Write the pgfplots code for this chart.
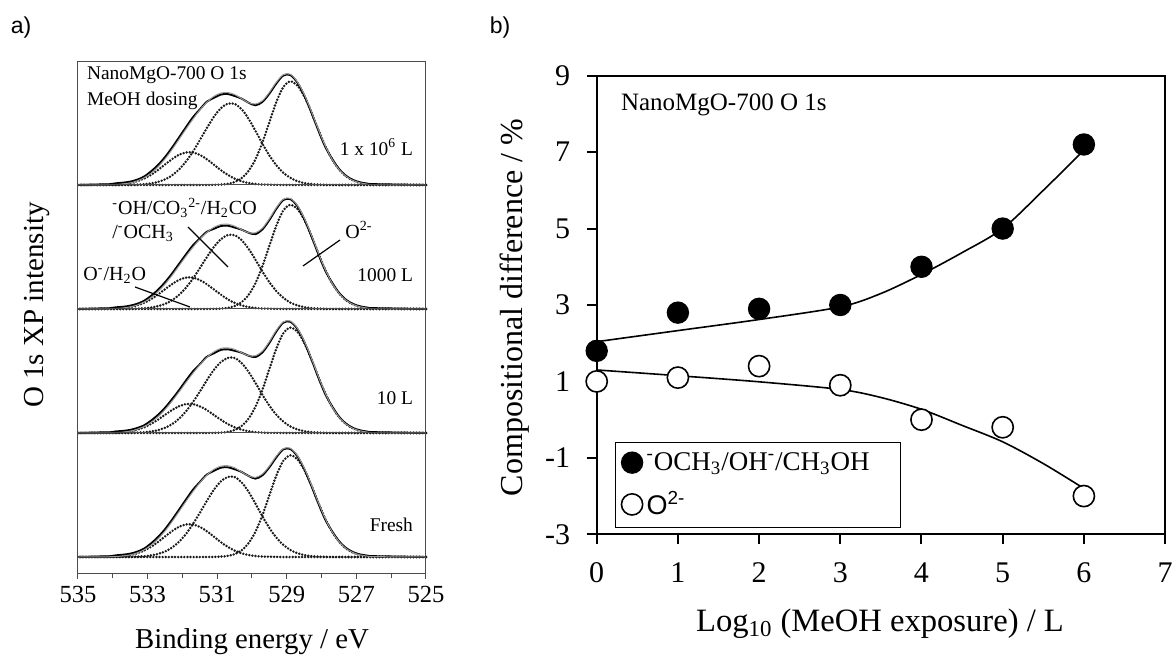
\documentclass[border=0pt]{standalone}
\usepackage{fontspec}
\setmainfont{Liberation Serif}
\newfontfamily\arial{Liberation Sans}
\usepackage{pgfplots}
\pgfplotsset{compat=1.18}
\usepackage{pgfplotstable}

% O 1s spectra: x = binding energy, dat = measured, fit = envelope,
% o2 / oh / ho = O2-, OH/CO3/OCH3 and O-/H2O components
\pgfplotstableread{
x dat fit o2 oh ho
525 0 0 0 0 0
526.5 0.007 0.003 0.003 0 0
526.7 0.012 0.008 0.008 0 0
526.9 0.022 0.018 0.018 0 0
527.1 0.041 0.037 0.037 0 0
527.3 0.075 0.071 0.071 0 0
527.5 0.130 0.126 0.126 0 0
527.7 0.212 0.208 0.208 0 0
527.9 0.311 0.319 0.318 0.001 0
528.1 0.445 0.453 0.450 0.003 0
528.3 0.590 0.598 0.590 0.008 0
528.5 0.724 0.732 0.716 0.016 0
528.7 0.828 0.834 0.803 0.031 0
528.9 0.887 0.893 0.835 0.058 0
529.1 0.883 0.889 0.790 0.099 0
529.3 0.819 0.829 0.669 0.159 0.001
529.5 0.737 0.747 0.507 0.238 0.002
529.7 0.670 0.680 0.343 0.333 0.004
529.9 0.643 0.653 0.208 0.437 0.008
530.1 0.664 0.664 0.113 0.535 0.016
530.3 0.697 0.697 0.055 0.612 0.030
530.5 0.718 0.730 0.024 0.654 0.052
530.7 0.734 0.746 0.009 0.655 0.082
530.9 0.729 0.741 0.003 0.617 0.121
531.1 0.702 0.714 0.001 0.548 0.165
531.3 0.671 0.666 0 0.458 0.208
531.5 0.609 0.604 0 0.361 0.243
531.7 0.545 0.530 0 0.268 0.262
531.9 0.465 0.450 0 0.188 0.262
532.1 0.382 0.367 0 0.124 0.243
532.3 0.300 0.285 0 0.077 0.208
532.5 0.225 0.210 0 0.045 0.165
532.7 0.161 0.146 0 0.025 0.121
532.9 0.110 0.095 0 0.013 0.082
533.1 0.068 0.058 0 0.006 0.052
533.3 0.043 0.033 0 0.003 0.030
533.5 0.027 0.017 0 0.001 0.016
533.7 0.019 0.009 0 0.001 0.008
533.9 0.014 0.004 0 0 0.004
534.1 0.006 0.002 0 0 0.002
534.3 0.005 0.001 0 0 0.001
535 0 0 0 0 0
}\specA

\pgfplotstableread{
x dat fit o2 oh ho
525 0 0 0 0 0
526.5 0.007 0.003 0.003 0 0
526.7 0.012 0.008 0.008 0 0
526.9 0.022 0.018 0.018 0 0
527.1 0.041 0.037 0.037 0 0
527.3 0.075 0.071 0.071 0 0
527.5 0.131 0.127 0.127 0 0
527.7 0.213 0.209 0.209 0 0
527.9 0.313 0.321 0.320 0.001 0
528.1 0.448 0.456 0.453 0.003 0
528.3 0.593 0.601 0.594 0.007 0
528.5 0.727 0.735 0.720 0.015 0
528.7 0.831 0.837 0.808 0.029 0
528.9 0.886 0.892 0.840 0.052 0
529.1 0.879 0.885 0.795 0.090 0
529.3 0.808 0.818 0.673 0.144 0.001
529.5 0.718 0.728 0.510 0.216 0.002
529.7 0.642 0.652 0.345 0.303 0.004
529.9 0.604 0.614 0.209 0.397 0.008
530.1 0.615 0.615 0.113 0.486 0.016
530.3 0.640 0.640 0.055 0.556 0.029
530.5 0.657 0.669 0.024 0.595 0.050
530.7 0.672 0.684 0.009 0.596 0.079
530.9 0.669 0.681 0.003 0.561 0.117
531.1 0.646 0.658 0.001 0.498 0.159
531.3 0.622 0.617 0 0.417 0.200
531.5 0.568 0.563 0 0.329 0.234
531.7 0.512 0.497 0 0.244 0.253
531.9 0.439 0.424 0 0.171 0.253
532.1 0.362 0.347 0 0.113 0.234
532.3 0.285 0.270 0 0.070 0.200
532.5 0.215 0.200 0 0.041 0.159
532.7 0.155 0.140 0 0.023 0.117
532.9 0.106 0.091 0 0.012 0.079
533.1 0.066 0.056 0 0.006 0.050
533.3 0.042 0.032 0 0.003 0.029
533.5 0.027 0.017 0 0.001 0.016
533.7 0.018 0.008 0 0 0.008
533.9 0.014 0.004 0 0 0.004
534.1 0.006 0.002 0 0 0.002
534.3 0.005 0.001 0 0 0.001
535 0 0 0 0 0
}\specB

\pgfplotstableread{
x dat fit o2 oh ho
525 0 0 0 0 0
526.5 0.007 0.003 0.003 0 0
526.7 0.012 0.008 0.008 0 0
526.9 0.022 0.018 0.018 0 0
527.1 0.041 0.037 0.037 0 0
527.3 0.076 0.072 0.072 0 0
527.5 0.132 0.128 0.128 0 0
527.7 0.216 0.212 0.212 0 0
527.9 0.317 0.325 0.324 0.001 0
528.1 0.453 0.461 0.458 0.003 0
528.3 0.600 0.608 0.601 0.007 0
528.5 0.735 0.743 0.728 0.015 0
528.7 0.841 0.847 0.818 0.029 0
528.9 0.897 0.903 0.850 0.053 0
529.1 0.890 0.896 0.804 0.092 0
529.3 0.819 0.829 0.681 0.147 0.001
529.5 0.727 0.737 0.516 0.220 0.001
529.7 0.650 0.660 0.349 0.308 0.003
529.9 0.613 0.623 0.212 0.404 0.007
530.1 0.623 0.623 0.115 0.494 0.014
530.3 0.648 0.648 0.056 0.565 0.027
530.5 0.663 0.675 0.024 0.605 0.046
530.7 0.675 0.687 0.009 0.605 0.073
530.9 0.670 0.682 0.003 0.571 0.108
531.1 0.642 0.654 0.001 0.507 0.146
531.3 0.614 0.609 0 0.424 0.185
531.5 0.554 0.549 0 0.334 0.215
531.7 0.496 0.481 0 0.248 0.233
531.9 0.422 0.407 0 0.174 0.233
532.1 0.344 0.329 0 0.114 0.215
532.3 0.271 0.256 0 0.071 0.185
532.5 0.203 0.188 0 0.042 0.146
532.7 0.146 0.131 0 0.023 0.108
532.9 0.100 0.085 0 0.012 0.073
533.1 0.062 0.052 0 0.006 0.046
533.3 0.040 0.030 0 0.003 0.027
533.5 0.025 0.015 0 0.001 0.014
533.7 0.017 0.007 0 0 0.007
533.9 0.013 0.003 0 0 0.003
534.1 0.005 0.001 0 0 0.001
534.3 0.005 0.001 0 0 0.001
535 0 0 0 0 0
}\specC

\pgfplotstableread{
x dat fit o2 oh ho
525 0 0 0 0 0
526.5 0.007 0.003 0.003 0 0
526.7 0.012 0.008 0.008 0 0
526.9 0.021 0.017 0.017 0 0
527.1 0.040 0.036 0.036 0 0
527.3 0.073 0.069 0.069 0 0
527.5 0.128 0.124 0.124 0 0
527.7 0.208 0.204 0.204 0 0
527.9 0.305 0.313 0.312 0.001 0
528.1 0.437 0.445 0.442 0.003 0
528.3 0.579 0.587 0.580 0.007 0
528.5 0.711 0.719 0.703 0.016 0
528.7 0.814 0.820 0.789 0.031 0
528.9 0.871 0.877 0.820 0.057 0
529.1 0.868 0.874 0.776 0.098 0
529.3 0.804 0.814 0.657 0.156 0.001
529.5 0.724 0.734 0.498 0.234 0.002
529.7 0.659 0.669 0.337 0.328 0.004
529.9 0.632 0.642 0.204 0.430 0.008
530.1 0.654 0.654 0.111 0.527 0.016
530.3 0.686 0.686 0.054 0.602 0.030
530.5 0.708 0.720 0.023 0.645 0.052
530.7 0.724 0.736 0.009 0.645 0.082
530.9 0.720 0.732 0.003 0.608 0.121
531.1 0.694 0.706 0.001 0.540 0.165
531.3 0.664 0.659 0 0.451 0.208
531.5 0.604 0.599 0 0.356 0.243
531.7 0.541 0.526 0 0.264 0.262
531.9 0.462 0.447 0 0.185 0.262
532.1 0.380 0.365 0 0.122 0.243
532.3 0.299 0.284 0 0.076 0.208
532.5 0.224 0.209 0 0.044 0.165
532.7 0.161 0.146 0 0.025 0.121
532.9 0.110 0.095 0 0.013 0.082
533.1 0.068 0.058 0 0.006 0.052
533.3 0.043 0.033 0 0.003 0.030
533.5 0.027 0.017 0 0.001 0.016
533.7 0.019 0.009 0 0.001 0.008
533.9 0.014 0.004 0 0 0.004
534.1 0.006 0.002 0 0 0.002
534.3 0.005 0.001 0 0 0.001
535 0 0 0 0 0
}\specD

\pgfplotsset{
  xps/.style={scale only axis, width=174pt, xmin=525, xmax=535, x dir=reverse,
    ymin=0, ymax=1, ytick=\empty, clip=false, anchor=south west,
    axis line style={line width=0.5pt, black!70}},
  comp/.style={black!90, line width=1.35pt, dash pattern=on 0pt off 1.55pt, line cap=round, smooth},
  dat/.style={black, line width=0.95pt, smooth},
  fitl/.style={black!40, line width=0.5pt, smooth},
}

\newcommand{\spectrum}[1]{%
  \addplot[comp] table[x=x, y=o2] {#1};
  \addplot[comp] table[x=x, y=oh] {#1};
  \addplot[comp] table[x=x, y=ho] {#1};
  \addplot[dat] table[x=x, y=dat] {#1};
  \addplot[fitl] table[x=x, y=fit] {#1};
}

\begin{document}
\begin{tikzpicture}
\useasboundingbox (0pt,0pt) rectangle (587pt,-328pt);

% ---- panel a: stacked spectra ----
\begin{axis}[xps, at={(39pt,-92.5pt)}, height=61.5pt, ymax=0.992, xtick=\empty]
\spectrum{\specA}
\end{axis}
\begin{axis}[xps, at={(39pt,-154.5pt)}, height=62pt, xtick=\empty]
\spectrum{\specB}
\end{axis}
\begin{axis}[xps, at={(39pt,-216.5pt)}, height=62pt, xtick=\empty]
\spectrum{\specC}
\end{axis}
\begin{axis}[xps, at={(39pt,-287pt)}, height=70.5pt, ymin=-0.137,
    xtick={525,527,529,531,533,535}, minor xtick={526,528,530,532,534},
    tick align=outside, major tick length=2.5pt, minor tick length=2pt,
    tick style={black!70, line width=0.5pt}, tick pos=left,
    /pgf/number format/assume math mode=true,
    xticklabel style={font=\fontsize{12.3}{14}\selectfont}]
\spectrum{\specD}
\end{axis}

\node[font=\arial\fontsize{11.5}{13}\selectfont] at (10.5pt,-14pt) {a)};
\node[font=\fontsize{14.5}{17}\selectfont, rotate=90] at (18.5pt,-152.5pt) {O 1s XP intensity};
\node[font=\fontsize{14.4}{17}\selectfont] at (126pt,-321pt) {Binding energy / eV};

\begin{scope}[font=\fontsize{9.7}{11}\selectfont]
\node[anchor=west] at (40pt,-37.5pt) {NanoMgO-700 O 1s};
\node[anchor=west] at (40pt,-50.5pt) {MeOH dosing};
\node[anchor=east] at (210pt,-73.5pt) {1 x 10\textsuperscript{6} L};
\node[anchor=east] at (210pt,-137.5pt) {1000 L};
\node[anchor=east] at (210pt,-199pt) {10 L};
\node[anchor=east] at (210pt,-262.5pt) {Fresh};
\end{scope}
\begin{scope}[font=\fontsize{10}{12}\selectfont]
\node[anchor=west, inner sep=0pt] at (56pt,-104pt)
  {\textsuperscript{-}OH/CO\textsubscript{3}\textsuperscript{2-}/H\textsubscript{2}CO};
\node[anchor=west, inner sep=0pt] at (56pt,-116.5pt) {/\textsuperscript{-}OCH\textsubscript{3}};
\node[anchor=west, inner sep=0pt] at (172.5pt,-115pt) {O\textsuperscript{2-}};
\node[anchor=west, inner sep=0pt] at (41.5pt,-137.5pt) {O\textsuperscript{-}/H\textsubscript{2}O};
\end{scope}
\draw[line width=0.6pt] (94pt,-113.5pt) -- (114pt,-133.5pt);
\draw[line width=0.6pt] (170pt,-120pt) -- (151.5pt,-133pt);
\draw[line width=0.6pt] (67.5pt,-143.5pt) -- (95pt,-153.5pt);

% ---- panel b: compositional difference ----
\node[font=\arial\fontsize{11.5}{13}\selectfont] at (250pt,-14pt) {b)};
\begin{axis}[scale only axis, at={(298.35pt,-267.15pt)}, anchor=south west,
    width=284.2pt, height=229.3pt,
    xmin=0, xmax=7, ymin=-3, ymax=9,
    xtick={0,1,...,7}, ytick={-3,-1,1,3,5,7,9},
    yticklabels={-3,-1,1,3,5,7,9},
    tick align=outside, tick pos=left, major tick length=4.7pt,
    axis line style={line width=1pt},
    tick style={black, line width=1pt},
    /pgf/number format/assume math mode=true,
    ticklabel style={font=\fontsize{15}{18}\selectfont},
    xticklabel style={yshift=-6pt},
    yticklabel style={xshift=-5pt},
    clip=false,
    legend cell align=left,
    legend style={at={(0.032,0.013)}, anchor=south west, draw=black,
      line width=0.6pt, font=\fontsize{13.5}{15}\selectfont, row sep=5pt,
      inner ysep=3pt}]
\addplot[black, line width=0.8pt, smooth, forget plot] coordinates {
  (0,2.04) (1,2.33) (2,2.62) (3,2.95) (3.5,3.30) (4,3.80)
  (4.5,4.37) (5,5.00) (5.5,6.00) (6,7.05)};
\addplot[black, line width=0.8pt, smooth, forget plot] coordinates {
  (0,1.30) (1,1.15) (2,0.99) (3,0.79) (3.5,0.58) (4,0.27)
  (4.5,-0.15) (5,-0.58) (5.5,-1.15) (6,-1.80)};
\addplot[only marks, mark=*, mark size=5.3pt,
    mark options={fill=black, draw=black, line width=0.6pt}] coordinates {
  (0,1.8) (1,2.8) (2,2.9) (3,3.0) (4,4.0) (5,5.0) (6,7.2)};
\addlegendentry{\makebox[122pt][l]{\textsuperscript{-}OCH\textsubscript{3}/OH\textsuperscript{-}/CH\textsubscript{3}OH}}
\addplot[only marks, mark=*, mark size=5.3pt,
    mark options={fill=white, draw=black, line width=0.8pt}] coordinates {
  (0,1.0) (1,1.1) (2,1.4) (3,0.9) (4,0.0) (5,-0.2) (6,-2.0)};
\addlegendentry{{\arial O\textsuperscript{2-}}}
\end{axis}

\node[anchor=west, font=\fontsize{12.5}{14}\selectfont] at (307pt,-52.5pt) {NanoMgO-700 O 1s};
\node[font=\fontsize{16.3}{19}\selectfont] at (440pt,-312pt)
  {Log\textsubscript{10} (MeOH exposure) / L};
\node[font=\fontsize{16}{19}\selectfont, rotate=90] at (257.5pt,-153.75pt)
  {Compositional difference / \%};
\end{tikzpicture}
\end{document}
